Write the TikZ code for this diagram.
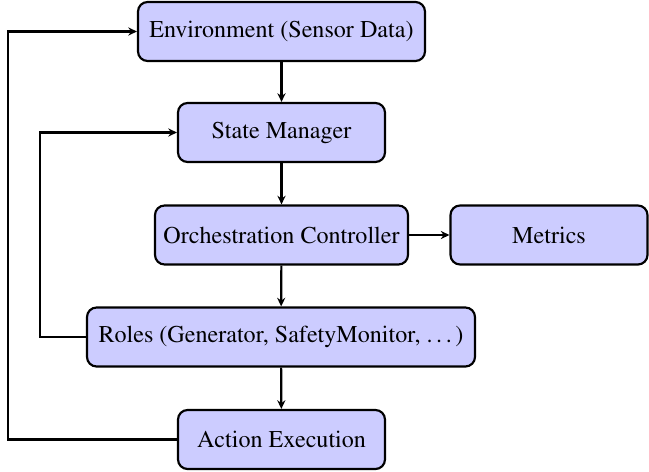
\documentclass[tikz,border=0pt]{standalone}
\usepackage[T1]{fontenc}
\usepackage{mathptmx}
\usetikzlibrary{arrows.meta}
\begin{document}
\begin{tikzpicture}[x=0.415pt,y=-0.415pt,>={Stealth[length=3.6pt,width=3.4pt,inset=1.2pt]},
  box/.style={draw,line width=0.9pt,fill=blue!20,rounded corners=4pt,minimum height=24.5pt,inner sep=2pt,font=\fontsize{10}{12}\selectfont},
  conn/.style={->,line width=0.9pt}]
\useasboundingbox (0,0) rectangle (649,471);
\node[box,minimum width={287*0.415pt}] (env) at (281.5,31.5) {Environment (Sensor Data)};
\node[box,minimum width={207*0.415pt}] (sm) at (281.5,132.5) {State Manager};
\node[box,minimum width={253*0.415pt}] (oc) at (281.5,235) {Orchestration Controller};
\node[box,minimum width={197*0.415pt}] (met) at (549,235) {Metrics};
\node[box,minimum width={388*0.415pt}] (roles) at (281,337) {Roles (Generator, SafetyMonitor, \dots)};
\node[box,minimum width={207*0.415pt}] (act) at (281.5,439.5) {Action Execution};
\coordinate (c1) at (8,0);
\coordinate (c2) at (40,0);
\draw[conn] (env) -- (sm);
\draw[conn] (sm) -- (oc);
\draw[conn] (oc) -- (met);
\draw[conn] (oc) -- (roles);
\draw[conn] (roles) -- (act);
\draw[conn] (act.west) -| (c1 |- act.west) |- (env.west);
\draw[conn] (roles.west) -| (c2 |- roles.west) |- (sm.west);
\end{tikzpicture}
\end{document}
